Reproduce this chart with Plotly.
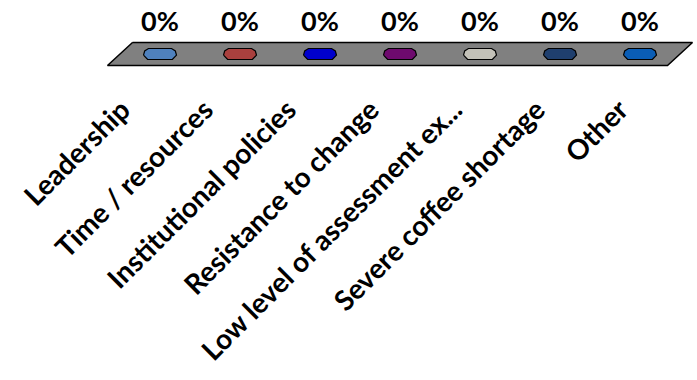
import plotly.graph_objects as go

# Survey categories and their response shares (percent)
categories = [
    "Leadership",
    "Time / resources",
    "Institutional policies",
    "Resistance to change",
    "Low level of assessment ex...",
    "Severe coffee shortage",
    "Other",
]
values = [0, 0, 0, 0, 0, 0, 0]
bar_colors = ["#4F81BD", "#A9403E", "#0000CC", "#6E0A6E", "#C3C1B8", "#1F3F6E", "#0A5DB5"]

FONT = "Lato"
PX = 80.0          # pixels per category step on the x axis
DEPTH = 11.5       # half depth of the floor (px)
SKEW = 12.5        # horizontal skew of the floor half-depth (px)
EW, EH = 16.5, 5.5 # half width / half height of the bar tops (px)
PLOT_W = 592       # plot area width (px)
LABEL_PX = 83.0    # category label spacing on the front edge (perspective)

fig = go.Figure()

# grey floor (parallelogram spanning all categories)
n = len(categories)
s = SKEW / PX
fx = [-0.5 + s, n - 0.5 + s, n - 0.5 - s, -0.5 - s, -0.5 + s]
fy = [DEPTH, DEPTH, -DEPTH, -DEPTH, DEPTH]
fig.add_trace(go.Scatter(
    x=fx, y=fy, mode="lines", fill="toself",
    fillcolor="#808080", line=dict(color="#000000", width=1.5),
    hoverinfo="skip", showlegend=False,
))

# flat bar tops (value drawn as height above the floor)
HSCALE = 1.0
octo = [(-1, -0.2), (-0.93, 0.55), (-0.7, 1), (0.7, 1), (0.93, 0.55), (1, -0.2),
        (0.75, -1), (-0.75, -1), (-1, -0.2)]
for i, (v, c) in enumerate(zip(values, bar_colors)):
    cy = v * HSCALE
    fig.add_trace(go.Scatter(
        x=[i + dx * EW / PX for dx, _ in octo],
        y=[cy + dy * EH for _, dy in octo],
        mode="lines", fill="toself", fillcolor=c,
        line=dict(color="#000000", width=1.2),
        hoverinfo="skip", showlegend=False,
    ))

# value labels
fig.add_trace(go.Scatter(
    x=list(range(n)), y=[v * HSCALE + 29.5 for v in values],
    mode="text", text=[f"{v:.0f}%" for v in values],
    textfont=dict(family=FONT, size=27, color="#000000", weight="bold"),
    textposition="middle center", cliponaxis=False,
    hoverinfo="skip", showlegend=False,
))

# category axis along the floor's front edge, slightly wider spacing
lab_r0 = -0.7 * PX / LABEL_PX
lab_r1 = lab_r0 + PLOT_W / LABEL_PX

fig.update_layout(
    width=697, height=380,
    margin=dict(l=104, r=697 - 104 - PLOT_W, t=0, b=295),
    paper_bgcolor="#FFFFFF", plot_bgcolor="#FFFFFF",
    xaxis=dict(
        range=[-0.7, -0.7 + PLOT_W / PX],
        showticklabels=False, showgrid=False, zeroline=False, showline=False, ticks="",
    ),
    xaxis2=dict(
        overlaying="x", anchor="y", side="bottom",
        range=[lab_r0, lab_r1],
        tickmode="array", tickvals=list(range(n)), ticktext=categories,
        tickangle=-45, showgrid=False, zeroline=False, showline=False,
        ticks="", tickfont=dict(family=FONT, size=28, color="#000000", weight="bold"),
        ticklabelshift=-38, ticklabelstandoff=2,
    ),
    yaxis=dict(range=[-31, 54], visible=False, fixedrange=True),
    showlegend=False,
)
# invisible carrier so the label axis is drawn
fig.add_trace(go.Scatter(x=[0], y=[0], xaxis="x2", mode="markers",
                         marker=dict(opacity=0), hoverinfo="skip", showlegend=False))

fig.write_html("out.html")
